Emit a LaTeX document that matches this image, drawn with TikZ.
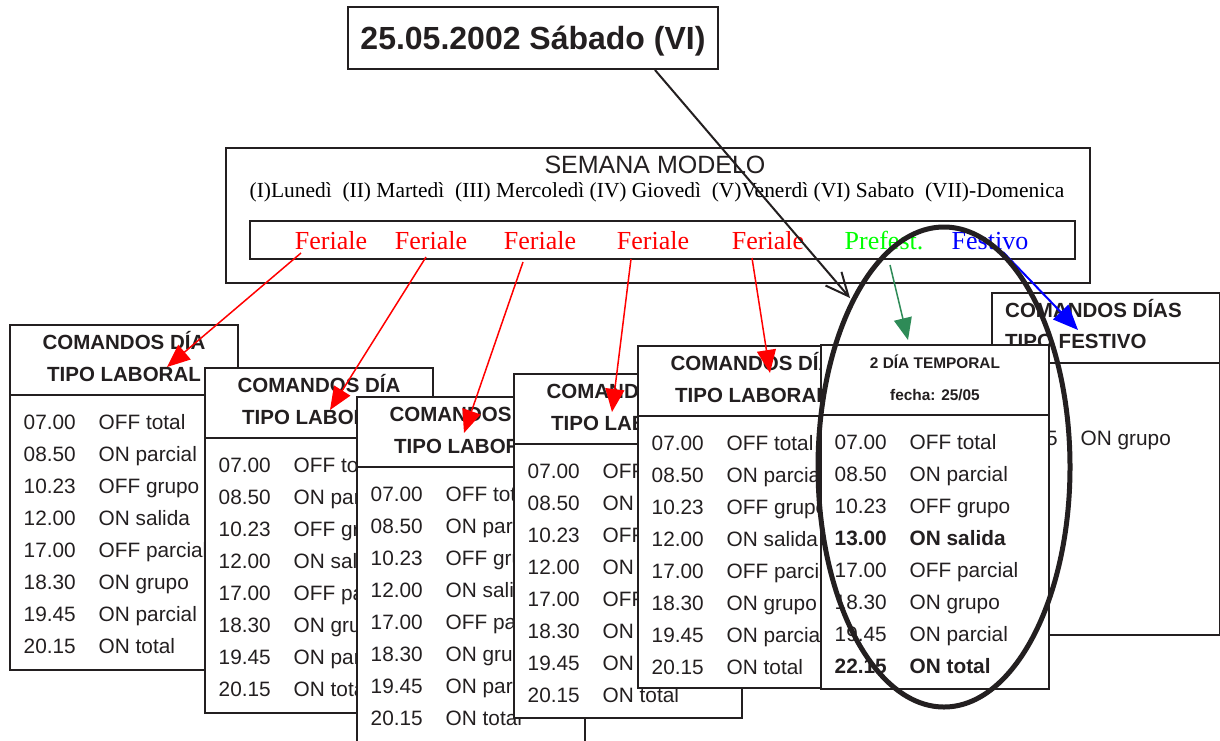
\documentclass[tikz,border=0pt]{standalone}
\usepackage{fontspec}
\setmainfont{Liberation Serif}
\newfontfamily\arialf{Liberation Sans}
\usetikzlibrary{arrows.meta}
\definecolor{ink}{HTML}{231F20}
\definecolor{seagr}{HTML}{2E8B57}
\newcommand\fRow{\arialf\fontsize{20.8}{24}\selectfont}
\newcommand\fRowB{\arialf\bfseries\fontsize{20.8}{24}\selectfont}
\newcommand\fHd{\arialf\bfseries\fontsize{20.5}{24}\selectfont}
\newcommand\fHdS{\arialf\bfseries\fontsize{15.4}{18}\selectfont}
\tikzset{
  cardbody/.style={draw=ink, line width=2pt, fill=white, inner sep=0pt, outer sep=0pt, anchor=north west, minimum width=228pt},
  cardline/.style={draw=ink, line width=2pt},
  rowtxt/.style={font=\fRow, text=ink, inner sep=0pt, anchor=base west},
  boldrow/.style={font=\fRowB},
  hdtxt/.style={font=\fHd, text=ink, inner sep=0pt, anchor=base},
  daylbl/.style={font=\fontsize{26}{30}\selectfont, inner sep=0pt, anchor=base},
  redarrow/.style={red, line width=1.5pt, -{Triangle[length=23pt,width=19pt]}},
  framebox/.style={draw=ink, line width=2.5pt, inner sep=0pt, outer sep=0pt, anchor=north west},
}
\newcommand\mkcard[4]{%
  \node[cardbody, minimum height=#4pt] (#1) at (#2,#3) {};
  \draw[cardline] ([yshift=-70pt]#1.north west) -- ([yshift=-70pt]#1.north east);}
\newcommand\crow[5][]{%
  \node[rowtxt,#1] (#2t#3) at ([xshift=13.5pt,yshift={-104pt-32pt*#3}]#2.north west) {#4};
  \node[rowtxt,#1] (#2c#3) at ([xshift=88.5pt,yshift={-104pt-32pt*#3}]#2.north west) {#5};}
\newcommand\lhead[1]{%
  \node[hdtxt] (#1h1) at ([yshift=-24.5pt]#1.north) {COMANDOS DÍA};
  \node[hdtxt] (#1h2) at ([yshift=-56.5pt]#1.north) {TIPO LABORAL};}
\newcommand\lrows[1]{%
  \crow{#1}{0}{07.00}{OFF total}
  \crow{#1}{1}{08.50}{ON parcial}
  \crow{#1}{2}{10.23}{OFF grupo}
  \crow{#1}{3}{12.00}{ON salida}
  \crow{#1}{4}{17.00}{OFF parcial}
  \crow{#1}{5}{18.30}{ON grupo}
  \crow{#1}{6}{19.45}{ON parcial}
  \crow{#1}{7}{20.15}{ON total}}
\begin{document}
\begin{tikzpicture}[x=1pt,y=-1pt]
\useasboundingbox (0,0) rectangle (1220,740);
\fill[white] (0,0) rectangle (1220,740);
\clip (0,0) rectangle (1220,740);

% cards, back to front
\mkcard{ca}{10}{325}{345}  \lhead{ca} \lrows{ca}
\mkcard{cb}{205}{368}{345} \lhead{cb} \lrows{cb}
\mkcard{cc}{357}{397}{360} \lhead{cc} \lrows{cc}
\mkcard{cd}{514}{374}{344} \lhead{cd} \lrows{cd}
\mkcard{ce}{638}{346}{342} \lhead{ce} \lrows{ce}
% festivo card
\mkcard{cf}{992}{293}{342}
\node[hdtxt, anchor=base west] (cfh1) at ([xshift=13pt,yshift=-24pt]cf.north west) {COMANDOS DÍAS};
\node[hdtxt, anchor=base west] (cfh2) at ([xshift=13pt,yshift=-55pt]cf.north west) {TIPO FESTIVO};
\node[rowtxt] (cft0) at ([xshift=13.5pt,yshift=-152pt]cf.north west) {18.45};
\node[rowtxt] (cfc0) at ([xshift=88.5pt,yshift=-152pt]cf.north west) {ON grupo};
% temporal card
\mkcard{ct}{821}{345}{344}
\node[hdtxt, font=\fHdS] (cth1) at ([yshift=-23pt]ct.north) {2 DÍA TEMPORAL};
\node[hdtxt, font=\fHdS] (cth2) at ([yshift=-55pt]ct.north) {fecha: 25/05};
\crow{ct}{0}{07.00}{OFF total}
\crow{ct}{1}{08.50}{ON parcial}
\crow{ct}{2}{10.23}{OFF grupo}
\crow[boldrow]{ct}{3}{13.00}{ON salida}
\crow{ct}{4}{17.00}{OFF parcial}
\crow{ct}{5}{18.30}{ON grupo}
\crow{ct}{6}{19.45}{ON parcial}
\crow[boldrow]{ct}{7}{22.15}{ON total}

% week model box
\node[framebox, minimum width=864pt, minimum height=135pt] (semana) at (226,148) {};
\node[framebox, minimum width=825pt, minimum height=38pt] (tipos) at (250,221) {};
\node[font=\arialf\fontsize{25}{30}\selectfont, text=ink, anchor=base, inner sep=0pt] (semtit) at (655,173) {SEMANA MODELO};
\node[font=\fontsize{21.45}{25}\selectfont, anchor=base, inner sep=0pt] (dias) at (657,197)
  {(I)Lunedì\ \ (II) Martedì\ \ (III) Mercoledì (IV) Giovedì\ \ (V)Venerdì (VI) Sabato\ \ (VII)-Domenica};
\node[daylbl, red] (fer1) at (331,249) {Feriale};
\node[daylbl, red] (fer2) at (431,249) {Feriale};
\node[daylbl, red] (fer3) at (540,249) {Feriale};
\node[daylbl, red] (fer4) at (653,249) {Feriale};
\node[daylbl, red] (fer5) at (768,249) {Feriale};
\node[daylbl, green] (pref) at (884,249) {Prefest.};
\node[daylbl, blue] (fest) at (990,249) {Festivo};

% title
\node[draw=ink, line width=2pt, minimum width=370pt, minimum height=62pt, inner sep=0pt,
      font=\arialf\bfseries\fontsize{32}{36}\selectfont, text=ink, text height=23pt, text depth=0pt] (title) at (533,38) {25.05.2002 Sábado (VI)};

% arrow targets
\coordinate (tip1) at (167,367);
\coordinate (tip2) at (330,410);
\coordinate (tip3) at (464,433);
\coordinate (tip4) at (612,412);
\coordinate (tip5) at (770,373);
\coordinate (tipg) at (908,340);
\coordinate (tipb) at (1078,330);
\coordinate (tipk) at (850,298);

\draw[redarrow] ([shift={(-30pt,-4pt)}]fer1.base) -- (tip1);
\draw[redarrow] ([shift={(-5pt,-8pt)}]fer2.base) -- (tip2);
\draw[redarrow] ([shift={(-17pt,-13pt)}]fer3.base) -- (tip3);
\draw[redarrow] ([shift={(-22pt,-10pt)}]fer4.base) -- (tip4);
\draw[redarrow] ([shift={(-16pt,-9pt)}]fer5.base) -- (tip5);
\draw[seagr, line width=1.5pt, -{Triangle[length=22pt,width=18pt]}] ([shift={(6pt,-16pt)}]pref.base) -- (tipg);
\draw[blue, line width=2pt, -{Triangle[length=25pt,width=21pt]}] ([shift={(13pt,-3pt)}]fest.base) -- (tipb);
\draw[ink, line width=2pt, -{Straight Barb[length=23pt,width=21pt]}] ([xshift=122pt]title.south) -- (tipk);

% highlight
\draw[ink, line width=5pt] (944,467) ellipse [x radius=126pt, y radius=240pt];
\end{tikzpicture}
\end{document}
